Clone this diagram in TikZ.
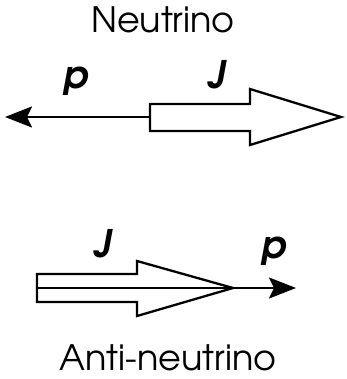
\documentclass[tikz,border=0pt]{standalone}
\usepackage{fontspec}
\setmainfont{texgyreadventor}[Extension=.otf,UprightFont=*-regular,BoldFont=*-bold,ItalicFont=*-italic,BoldItalicFont=*-bolditalic]
\usetikzlibrary{arrows.meta}
\begin{document}
\begin{tikzpicture}[x=1pt,y=-1pt, line width=2.3pt,
  lbl/.style={inner sep=0pt, anchor=base, font=\fontsize{35}{40}\selectfont},
  vec/.style={inner sep=0pt, anchor=base, font=\fontsize{38}{44}\selectfont\bfseries\itshape},
  thinarrow/.style={-{Stealth[length=27pt,width=21pt,inset=5pt]}},
  hollow/.style={draw, fill=white, line join=miter}]
\useasboundingbox (0,0) rectangle (346,379);
% top: neutrino
\node[lbl] (nu) at (163,33) {Neutrino};
\node[vec] (ptop) at (76,89) {p};
\node[vec] (jtop) at (217,89) {J};
\coordinate (tj) at (150,117);
\coordinate (tend) at (5,117);
\draw[thinarrow] (tj) -- (tend);
\draw[hollow] (150,104) -- (250,104) -- (250,89) -- (341,117) -- (250,145) -- (250,131) -- (150,131) -- cycle;
% bottom: anti-neutrino
\node[lbl] (anu) at (168,370) {Anti-neutrino};
\node[vec] (jbot) at (103,257) {J};
\node[vec] (pbot) at (274,258) {p};
\draw[hollow] (37,274) -- (137,274) -- (137,261) -- (233,288) -- (137,316) -- (137,302) -- (37,302) -- cycle;
\coordinate (bj) at (37,288);
\coordinate (bend) at (296,288);
\draw[thinarrow] (bj) -- (bend);
\end{tikzpicture}
\end{document}
